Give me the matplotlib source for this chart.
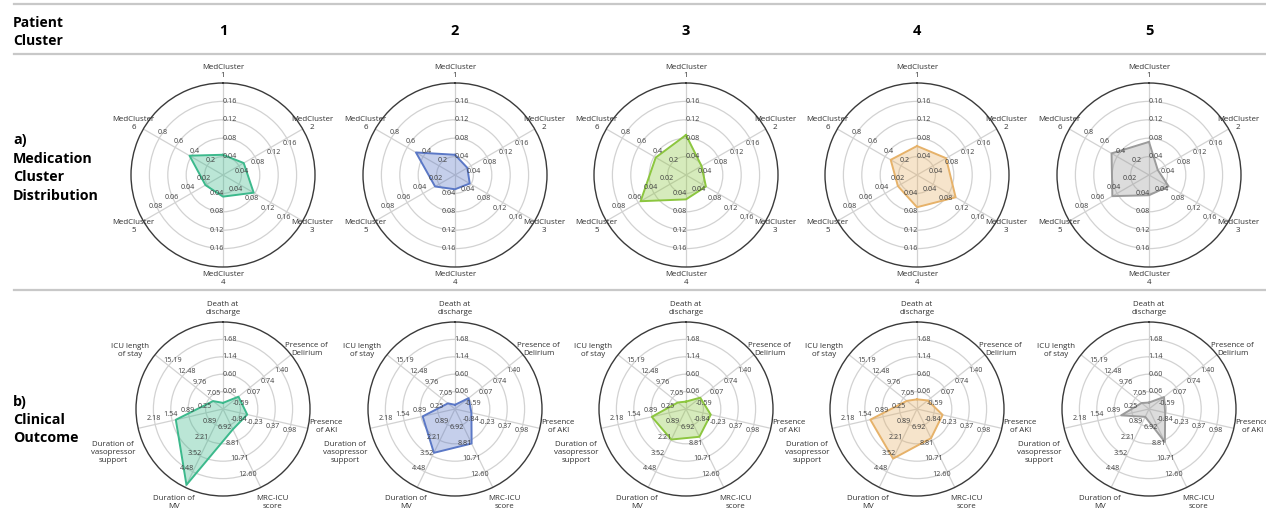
import numpy as np
import matplotlib
matplotlib.use('Agg')
import matplotlib.pyplot as plt
from matplotlib.lines import Line2D

plt.rcParams['font.family'] = ['Open Sans', 'DejaVu Sans']

W, H = 1266, 529

# ---- data ----
clusters = ['1', '2', '3', '4', '5']
colors = ['#3cb98c', '#5b78c6', '#8cc63f', '#e6b26a', '#9b9b9b']

med_labels = ['MedCluster\n1', 'MedCluster\n2', 'MedCluster\n3',
              'MedCluster\n4', 'MedCluster\n5', 'MedCluster\n6']
med_ticks = [['0.04', '0.08', '0.12', '0.16'],
             ['0.04', '0.08', '0.12', '0.16'],
             ['0.04', '0.08', '0.12', '0.16'],
             ['0.04', '0.08', '0.12', '0.16'],
             ['0.02', '0.04', '0.06', '0.08'],
             ['0.2', '0.4', '0.6', '0.8']]
med_c1 = [0.044, 0.052, 0.077, 0.047, 0.022, 0.42]
med_c2 = [0.044, 0.031, 0.037, 0.031, 0.025, 0.49]
med_c3 = [0.087, 0.039, 0.050, 0.053, 0.057, 0.38]
med_c4 = [0.063, 0.073, 0.097, 0.070, 0.024, 0.33]
med_c5 = [0.072, 0.022, 0.049, 0.044, 0.046, 0.47]

out_labels = ['Death at\ndischarge', 'Presence of\nDelirium', 'Presence\nof AKI',
              'MRC-ICU\nscore', 'Duration of\nMV',
              'Duration of\nvasopressor\nsupport', 'ICU length\nof stay']
out_ticks = [['0.06', '0.60', '1.14', '1.68'],
             ['-0.59', '0.07', '0.74', '1.40'],
             ['-0.84', '-0.23', '0.37', '0.98'],
             ['6.92', '8.81', '10.71', '12.60'],
             ['0.89', '2.21', '3.52', '4.48'],
             ['0.25', '0.89', '1.54', '2.18'],
             ['7.05', '9.76', '12.48', '15.19']]
out_c1 = [-0.29, -0.50, -0.58, 7.49, 5.96, 1.39, 6.32]
out_c2 = [-0.35, -0.59, -0.86, 9.19, 3.26, 0.83, 5.75]
out_c3 = [-0.25, -0.56, -0.56, 8.38, 2.14, 0.90, 5.97]
out_c4 = [-0.18, -0.73, -0.53, 8.55, 3.75, 1.37, 6.37]
out_c5 = [-0.28, -0.52, -0.87, 9.01, 0.23, 0.66, 5.83]

med_vals = [med_c1, med_c2, med_c3, med_c4, med_c5]
out_vals = [out_c1, out_c2, out_c3, out_c4, out_c5]

fig = plt.figure(figsize=(W / 100, H / 100), dpi=100)


def radar(cx, cy, R, labels, ticks, values, col, lab_r, lab_da):
    n = len(labels)
    ax = fig.add_axes([(cx - R) / W, 1 - (cy + R) / H, 2 * R / W, 2 * R / H],
                      projection='polar')
    ax.set_theta_zero_location('N')
    ax.set_theta_direction(-1)
    ang = np.arange(n) * 2 * np.pi / n
    ax.set_ylim(0, 5)
    ax.set_rgrids([1, 2, 3, 4], labels=[])
    ax.set_thetagrids(np.degrees(ang), labels=[])
    ax.grid(color='#d2d2d2', lw=0.9)
    ax.spines['polar'].set_color('#3a3a3a')
    ax.spines['polar'].set_linewidth(1.0)

    # value -> ring position using each axis' own tick scale
    rr = []
    for v, t in zip(values, ticks):
        t0, t1 = float(t[0]), float(t[1])
        step = t1 - t0
        rr.append((v - (t0 - step)) / step)
    th = np.append(ang, ang[0])
    rr = np.append(rr, rr[0])
    ax.fill(th, rr, color=col, alpha=0.35, lw=0, zorder=3)
    ax.plot(th, rr, color=col, lw=1.4, zorder=4)

    for i, a in enumerate(ang):
        off = (4.6 * np.cos(a), -4.6 * np.sin(a))
        for k, t in enumerate(ticks[i]):
            ax.annotate(t, xy=(a, k + 1), xytext=off, textcoords='offset points',
                        ha='center', va='center', fontsize=5.2, color='#404040',
                        zorder=5)
        ax.text(a + np.radians(lab_da[i]), lab_r[i], labels[i], ha='center',
                va='center', fontsize=5.7, color='#303030', linespacing=1.2)
    return ax


xs = [223, 455, 686, 917, 1149]
for j in range(5):
    radar(xs[j], 175, 92, med_labels, med_ticks, med_vals[j], colors[j],
          [5.6] * 6, [0] * 6)
    radar(xs[j], 409, 87, out_labels, out_ticks, out_vals[j], colors[j],
          [5.75, 5.92, 6.03, 6.1, 6.1, 6.8, 6.3],
          [0, 3, -3, -2, 2, -8.5, -6.6])

# header / separators
for y in [4, 54, 290]:
    fig.add_artist(Line2D([14 / W, 1], [1 - y / H, 1 - y / H],
                          transform=fig.transFigure, color='#c8c8c8', lw=1.6))

fig.text(13 / W, 1 - 32 / H, 'Patient\nCluster', ha='left', va='center',
         fontsize=10, fontweight='bold', linespacing=1.4)
for j in range(5):
    fig.text(xs[j] / W, 1 - 31 / H, clusters[j], ha='center', va='center',
             fontsize=10.5, fontweight='bold')

fig.text(13 / W, 1 - 168 / H, 'a)\nMedication\nCluster\nDistribution',
         ha='left', va='center', fontsize=10.3, fontweight='bold', linespacing=1.4)
fig.text(13 / W, 1 - 420 / H, 'b)\nClinical\nOutcome',
         ha='left', va='center', fontsize=10.3, fontweight='bold', linespacing=1.4)

fig.savefig('out.png', dpi=100)
